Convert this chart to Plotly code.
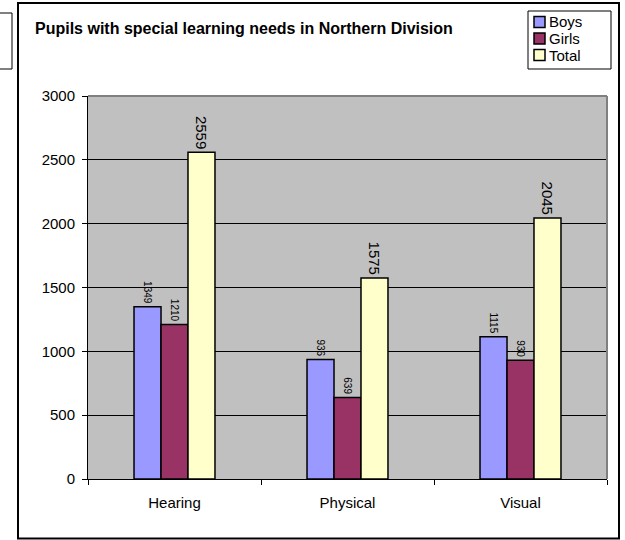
import plotly.graph_objects as go

categories = ["Hearing", "Physical", "Visual"]
boys = [1349, 936, 1115]
girls = [1210, 639, 930]
total = [2559, 1575, 2045]
series_names = ["Boys", "Girls", "Total"]
y_ticks = [0, 500, 1000, 1500, 2000, 2500, 3000]
title_text = "Pupils with special learning needs in Northern Division"

FONT = "Arial, Liberation Sans, sans-serif"
W, H = 625, 540
# plot area in page pixels
L, R, T, B = 88, 607, 96, 479
PW, PH = R - L, B - T


def px(x):
    return (x - L) / PW


def py(y):
    return (B - y) / PH


colors = ["#9999FF", "#993366", "#FFFFCC"]
label_sizes = [10, 10, 15]

fig = go.Figure()
for name, vals, col, ls in zip(series_names, [boys, girls, total], colors, label_sizes):
    fig.add_trace(go.Bar(
        x=categories, y=vals, name=name,
        marker=dict(color=col, line=dict(color="black", width=1.5)),
        text=[str(v) for v in vals], textposition="outside", textangle=90,
        textfont=dict(family=FONT, size=ls, color="black"),
        constraintext="none", cliponaxis=False, showlegend=False,
    ))

# legend drawn as shapes + text (compact Excel-style legend)
legend_shapes = [dict(type="rect", xref="paper", yref="paper",
                      x0=px(528), x1=px(611), y0=py(69), y1=py(11),
                      line=dict(color="black", width=1), fillcolor="white", layer="above")]
legend_annots = []
for i, (name, col) in enumerate(zip(series_names, colors)):
    yc = 22 + i * 16.5
    legend_shapes.append(dict(type="rect", xref="paper", yref="paper",
                              x0=px(534), x1=px(545), y0=py(yc + 5.5), y1=py(yc - 5.5),
                              line=dict(color="black", width=1.5), fillcolor=col, layer="above"))
    legend_annots.append(dict(text=name, xref="paper", yref="paper",
                              x=px(547), y=py(yc), xanchor="left", yanchor="middle",
                              showarrow=False,
                              font=dict(family=FONT, size=15, color="black")))

fig.update_layout(
    width=W, height=H,
    margin=dict(l=L, r=W - R, t=T, b=H - B, pad=0),
    paper_bgcolor="white", plot_bgcolor="#C0C0C0",
    barmode="group", bargap=0.532, bargroupgap=0,
    font=dict(family=FONT, size=15, color="black"),
    showlegend=False,
    xaxis=dict(
        showline=True, linecolor="black", linewidth=1,
        ticks="outside", ticklen=5, tickcolor="black", tickson="boundaries",
        tickfont=dict(family=FONT, size=15, color="black"),
        ticklabelstandoff=10,
        showgrid=False, zeroline=False,
    ),
    yaxis=dict(
        range=[0, 3000], tickvals=y_ticks, ticktext=[str(v) for v in y_ticks],
        showline=True, linecolor="black", linewidth=1,
        ticks="outside", ticklen=5, tickcolor="black",
        tickfont=dict(family=FONT, size=15, color="black"),
        ticklabelstandoff=4,
        showgrid=True, gridcolor="black", gridwidth=1, zeroline=False,
    ),
    annotations=[dict(
        text="<b>" + title_text + "</b>", xref="paper", yref="paper",
        x=px(33), y=py(28), xanchor="left", yanchor="middle", showarrow=False,
        font=dict(family=FONT, size=16, color="black"),
    )] + legend_annots,
    shapes=[
        # outer chart frame
        dict(type="rect", xref="paper", yref="paper",
             x0=px(18), x1=px(619), y0=py(538.5), y1=py(3),
             line=dict(color="black", width=2), layer="below"),
        # partial box at left edge
        dict(type="rect", xref="paper", yref="paper",
             x0=px(-5), x1=px(12), y0=py(69), y1=py(13),
             line=dict(color="black", width=1), layer="below"),
        # plot area top and right borders (gray)
        dict(type="line", xref="paper", yref="paper",
             x0=0, x1=1, y0=1, y1=1, line=dict(color="#808080", width=2), layer="above"),
        dict(type="line", xref="paper", yref="paper",
             x0=1, x1=1, y0=0, y1=1, line=dict(color="#808080", width=2), layer="above"),
    ] + legend_shapes,
)

fig.write_html(
    "out.html",
    config={"displayModeBar": False},
    post_script="document.body.style.margin='0';document.body.style.overflow='hidden';",
)
